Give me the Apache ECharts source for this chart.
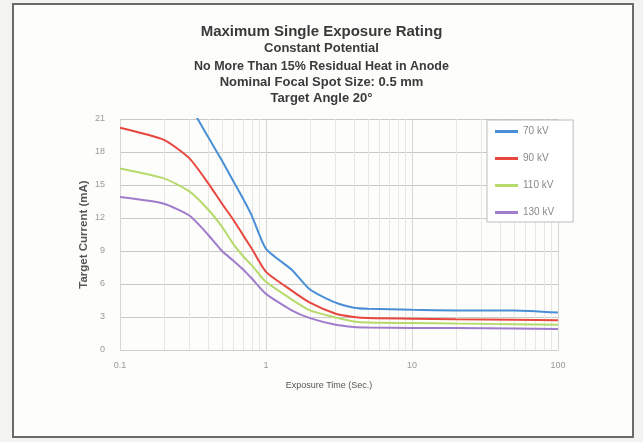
<!DOCTYPE html>
<html>
<head>
<meta charset="utf-8">
<script src="https://cdn.jsdelivr.net/npm/echarts@6/dist/echarts.min.js"></script>
<style>
html,body{margin:0;padding:0;background:#f3f3f1;}
#chart{width:643px;height:442px;}
</style>
</head>
<body>
<div id="chart"></div>
<script>
var times = [0.1, 0.2, 0.3, 0.4, 0.5, 0.6, 0.7, 0.8, 1, 1.5, 2, 3, 4, 5, 10, 20, 50, 100];
var kv70  = [32, 27, 22.3, 19.4, 17.2, 15.3, 13.7, 12.2, 9.2, 7.3, 5.5, 4.3, 3.85, 3.75, 3.65, 3.6, 3.6, 3.4];
var kv90  = [20.2, 19.1, 17.4, 15.2, 13.3, 11.8, 10.4, 9.2, 7.1, 5.4, 4.3, 3.3, 3.0, 2.9, 2.85, 2.8, 2.75, 2.7];
var kv110 = [16.5, 15.6, 14.4, 12.8, 11.2, 9.6, 8.5, 7.7, 6.2, 4.6, 3.6, 2.95, 2.6, 2.5, 2.45, 2.4, 2.35, 2.3];
var kv130 = [13.9, 13.3, 12.2, 10.5, 9.0, 8.1, 7.3, 6.5, 5.1, 3.6, 2.9, 2.3, 2.1, 2.05, 2.0, 2.0, 1.95, 1.9];
var seriesNames = ['70 kV', '90 kV', '110 kV', '130 kV'];
var seriesColors = ['#4a8fd6', '#e8473f', '#b6da6c', '#a07ccc'];
var xTickLabels = {0.1: '0.1', 1: '1', 10: '10', 100: '100'};
var minorGridX = [0.2,0.3,0.4,0.5,0.6,0.7,0.8,0.9,2,3,4,5,6,7,8,9,20,30,40,50,60,70,80,90];
var titleLines = ['Maximum Single Exposure Rating', 'Constant Potential',
  'No More Than 15% Residual Heat in Anode', 'Nominal Focal Spot Size: 0.5 mm', 'Target Angle 20°'];

function pairs(vals){ return times.map(function(t,i){ return [t, vals[i]]; }); }
var allVals = [kv70, kv90, kv110, kv130];

var chart = echarts.init(document.getElementById('chart'));
var titleTops = [24, 42, 60, 76, 92];
var titleSizes = [15, 13, 12.5, 13, 13];
var titles = titleLines.map(function(t, i){
  return {text: t, left: 'center', top: titleTops[i], padding: 0,
    textStyle: {fontFamily: 'Liberation Sans', fontWeight: 'bold',
      fontSize: titleSizes[i], color: '#3a3a3a'}};
});

var series = allVals.map(function(v, i){
  return {name: seriesNames[i], type: 'line', data: pairs(v), showSymbol: false,
    symbol: 'none', smooth: 0.2, clip: true, z: 5,
    lineStyle: {color: seriesColors[i], width: 2}, itemStyle: {color: seriesColors[i]}};
});
series.push({
  name: 'grid', type: 'line', data: [], silent: true, z: 1,
  markLine: {silent: true, symbol: 'none', label: {show: false},
    lineStyle: {color: '#e6e6e2', type: 'solid', width: 1},
    data: minorGridX.map(function(x){ return {xAxis: x}; })}
});

chart.setOption({
  backgroundColor: '#f3f3f1',
  animation: false,
  title: titles,
  graphic: [{type: 'rect', shape: {x: 13, y: 4, width: 620, height: 433},
    style: {fill: '#fdfdfb', stroke: '#6a6a6a', lineWidth: 2}, z: -10}],
  legend: {
    data: seriesNames, orient: 'vertical', left: 487, top: 120, z: 20,
    padding: [6, 19, 4, 8], itemGap: 16, itemWidth: 23, itemHeight: 3, icon: 'rect',
    borderColor: '#bdbdbd', borderWidth: 1, backgroundColor: '#ffffff',
    textStyle: {fontFamily: 'Liberation Sans', fontSize: 10, color: '#888', lineHeight: 11, height: 11}
  },
  grid: {left: 120, right: 85, top: 119, bottom: 92, show: false},
  xAxis: {
    type: 'log', logBase: 10, min: 0.1, max: 100,
    name: 'Exposure Time (Sec.)', nameLocation: 'middle', nameGap: 31,
    nameTextStyle: {fontFamily: 'Liberation Sans', fontSize: 9, color: '#555', padding: [0, 20, 0, 0]},
    axisLine: {show: true, lineStyle: {color: '#d0d0d0'}},
    axisTick: {show: false},
    axisLabel: {margin: 11, fontFamily: 'Liberation Sans', fontSize: 9, color: '#999',
      formatter: function(v){ return xTickLabels[v] !== undefined ? xTickLabels[v] : ''; }},
    splitLine: {show: true, lineStyle: {color: '#d6d6d2'}}
  },
  yAxis: {
    type: 'value', min: 0, max: 21, interval: 3,
    name: 'Target Current (mA)', nameLocation: 'middle', nameGap: 30, nameMoveOverlap: false,
    nameTextStyle: {fontFamily: 'Liberation Sans', fontSize: 11.5, fontWeight: 'bold', color: '#555'},
    axisLine: {show: true, lineStyle: {color: '#d6d6d2'}},
    axisTick: {show: false},
    axisLabel: {margin: 15, fontFamily: 'Liberation Sans', fontSize: 9, color: '#999'},
    splitLine: {show: true, lineStyle: {color: '#c9c9c5'}}
  },
  series: series
});
</script>
</body>
</html>
